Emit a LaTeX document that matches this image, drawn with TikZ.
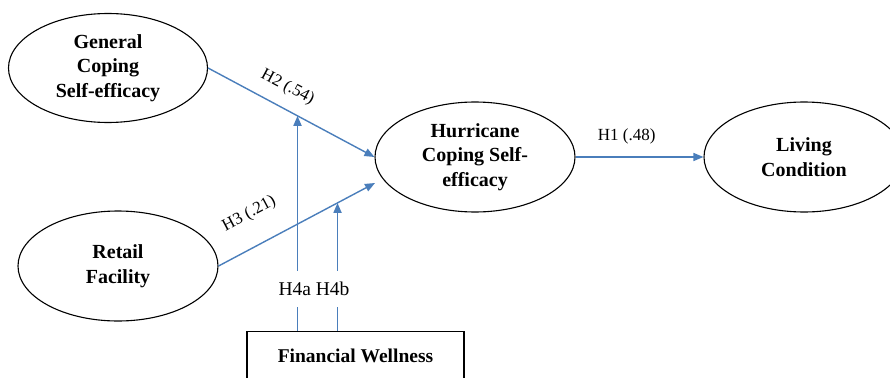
\documentclass[tikz,border=0pt]{standalone}
\usepackage{fontspec}
\setmainfont{Liberation Serif}
\usetikzlibrary{arrows.meta,shapes.geometric,calc}
\definecolor{linkblue}{RGB}{74,126,187}
\begin{document}
\begin{tikzpicture}[x=1pt,y=-1pt,
  construct/.style={draw=black,line width=1.1pt,ellipse,minimum width=200pt,minimum height=110pt,
    inner sep=0pt,align=center,font=\fontsize{20}{24.5}\selectfont\bfseries},
  boxnode/.style={draw=black,line width=1.1pt,rectangle,minimum width=217pt,minimum height=48pt,
    inner sep=0pt,font=\fontsize{19.5}{23}\selectfont\bfseries},
  link/.style={draw=linkblue,line width=1.4pt,-{Triangle[length=10pt,width=8pt]}},
  plainlink/.style={draw=linkblue,line width=1.4pt},
  vlink/.style={line width=1.8pt},
  lbl/.style={font=\fontsize{17}{20}\selectfont,sloped,anchor=south,inner xsep=0pt}
]
\useasboundingbox (0,0) rectangle (890,377);
\clip (0,0) rectangle (890,377);
\node[construct,minimum width=199pt,minimum height=109pt] (gen) at (108,68) {General\\Coping\\Self-efficacy};
\node[construct] (ret) at (118,266) {Retail\\Facility};
\node[construct] (hur) at (475,157) {Hurricane\\Coping Self-\\efficacy};
\node[construct] (liv) at (804,157) {Living\\Condition};
\node[boxnode] (fin) at (355.5,355.5) {Financial Wellness};
\node[font=\fontsize{19.5}{22}\selectfont,inner sep=0pt,minimum height=36pt] (mod) at (314,289) {H4a H4b};
\coordinate (h3end) at (375,183);

\draw[link] (hur.east) -- node[lbl,pos=0.4,inner ysep=12pt] {H1 (.48)} (liv.west);
\draw[link] (gen.east) -- node[lbl,pos=0.42,inner ysep=12pt] {H2 (.54)} (hur.west);
\draw[link] (ret.east) -- node[lbl,pos=0.29,inner ysep=23pt] {H3 (.21)} (h3end);

\coordinate (h4atgt) at (intersection of gen.east--hur.west and 297.5,0--297.5,377);
\coordinate (h4btgt) at (intersection of ret.east--h3end and 337.5,0--337.5,377);

\draw[plainlink,vlink] (fin.north -| h4atgt) -- (mod.south -| h4atgt);
\draw[link,vlink] (mod.north -| h4atgt) -- (h4atgt);
\draw[plainlink,vlink] (fin.north -| h4btgt) -- (mod.south -| h4btgt);
\draw[link,vlink] (mod.north -| h4btgt) -- (h4btgt);
\end{tikzpicture}
\end{document}
